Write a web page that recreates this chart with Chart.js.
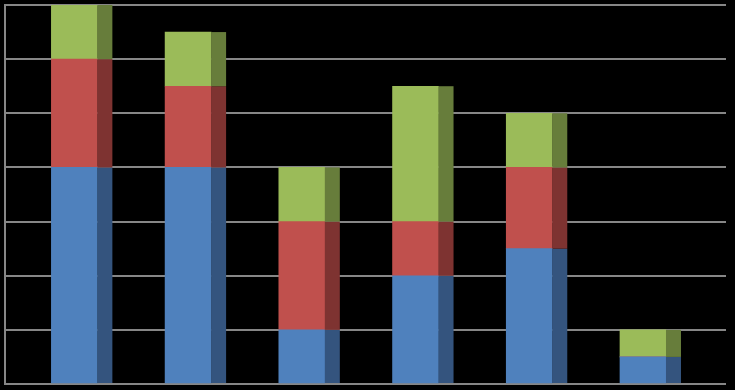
<!DOCTYPE html>
<html>
<head>
<meta charset="utf-8">
<script src="https://cdn.jsdelivr.net/npm/chart.js@4/dist/chart.umd.min.js"></script>
<style>
  html, body { margin: 0; padding: 0; background: #000; }
  canvas { display: block; }
</style>
</head>
<body>
<canvas id="chart" width="735" height="390"></canvas>
<script>
const categories = ['1', '2', '3', '4', '5', '6'];
const blueValues = [4, 4, 1, 2, 2.5, 0.5];
const redValues = [2, 1.5, 2, 1, 1.5, 0];
const greenValues = [1, 1, 1, 2.5, 1, 0.5];
const yTicks = [0, 1, 2, 3, 4, 5, 6, 7];

// side face of each bar, drawn to the right of the front face
const sideFaces = {
  id: 'sideFaces',
  afterDatasetsDraw(chart) {
    const ctx = chart.ctx;
    const depth = 15;
    chart.data.datasets.forEach((ds, i) => {
      const meta = chart.getDatasetMeta(i);
      meta.data.forEach(bar => {
        const p = bar.getProps(['x', 'y', 'base', 'width'], true);
        const top = Math.min(p.y, p.base);
        const h = Math.abs(p.base - p.y);
        if (h < 0.5) return;
        ctx.save();
        ctx.fillStyle = ds.sideColor;
        ctx.fillRect(p.x + p.width / 2, top, depth, h);
        ctx.restore();
      });
    });
  }
};

const toPoints = arr => arr.map((v, i) => ({ x: i, y: v }));

new Chart(document.getElementById('chart').getContext('2d'), {
  type: 'bar',
  data: {
    labels: categories,
    datasets: [
      { label: 'Series 1', data: toPoints(blueValues), backgroundColor: '#4F81BD', sideColor: '#34547E' },
      { label: 'Series 2', data: toPoints(redValues), backgroundColor: '#C0504D', sideColor: '#7E3331' },
      { label: 'Series 3', data: toPoints(greenValues), backgroundColor: '#9BBB59', sideColor: '#677D3B' }
    ]
  },
  options: {
    responsive: false,
    devicePixelRatio: 1,
    animation: false,
    barThickness: 46,
    layout: { padding: { left: 5, right: 9, top: 5, bottom: 6 } },
    plugins: { legend: { display: false }, tooltip: { enabled: false } },
    scales: {
      x: {
        type: 'linear',
        stacked: true,
        offset: false,
        min: -0.61,
        max: 5.73,
        display: false
      },
      y: {
        stacked: true,
        min: 0,
        max: 7,
        afterBuildTicks: axis => { axis.ticks = yTicks.map(v => ({ value: v })); },
        ticks: { display: false },
        grid: { color: '#868686', lineWidth: 2, drawTicks: false },
        border: { display: true, color: '#868686', width: 2 }
      }
    }
  },
  plugins: [sideFaces]
});
</script>
</body>
</html>
